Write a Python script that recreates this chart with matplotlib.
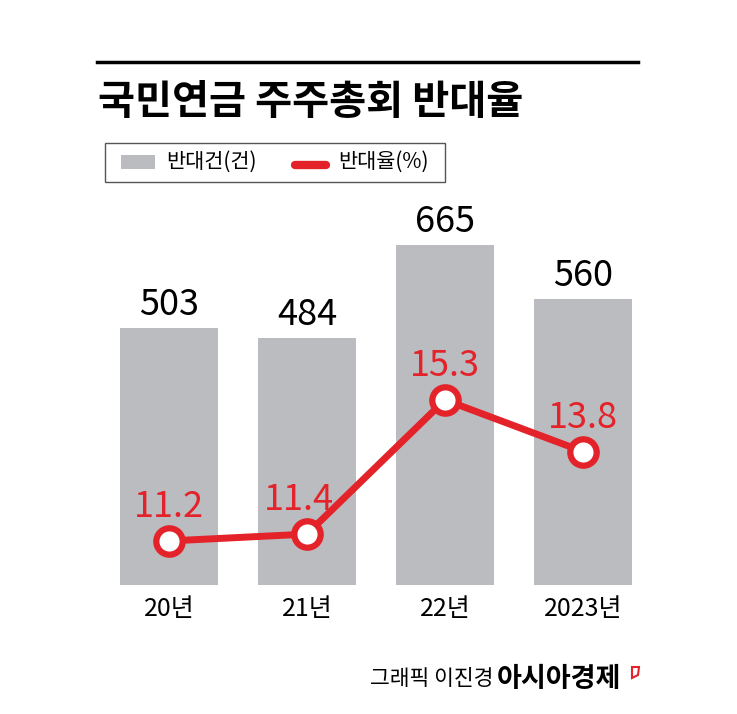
import matplotlib
matplotlib.use("Agg")
import matplotlib.pyplot as plt
from matplotlib.patches import Rectangle, Polygon
from matplotlib.lines import Line2D
import numpy as np

years = ["20년", "21년", "22년", "2023년"]
counts = [503, 484, 665, 560]        # 반대건(건)
rates = [11.2, 11.4, 15.3, 13.8]     # 반대율(%)

KR = ["Noto Sans CJK KR", "DejaVu Sans"]
RED = "#e4222a"
GREY = "#bbbcbf"

W, H = 737, 714
fig = plt.figure(figsize=(W / 100, H / 100), dpi=100)


def px(x, y):
    return x / W, 1 - y / H


# top rule + title
x0, y0 = px(97, 62)
x1, _ = px(638, 62)
fig.add_artist(Line2D([x0, x1], [y0, y0], lw=2.5, color="black"))
fig.text(*px(98, 103), "국민연금 주주총회 반대율", fontsize=29, fontweight="bold",
         family=KR, va="center", ha="left")

# legend box drawn by hand
lx, ly = px(105, 182)
fig.add_artist(Rectangle((lx, ly), 340 / W, 39 / H, fill=False, ec="#555555", lw=1))
gx, gy = px(121, 169)
fig.add_artist(Rectangle((gx, gy), 34 / W, 14 / H, color=GREY, lw=0))
fig.text(*px(166, 162), "반대건(건)", fontsize=15, family=KR, va="center")
rx0, ry = px(295, 165)
rx1, _ = px(326, 165)
fig.add_artist(Line2D([rx0, rx1], [ry, ry], lw=6, color=RED, solid_capstyle="round"))
fig.text(*px(338, 162), "반대율(%)", fontsize=15, family=KR, va="center")

# bars
ax = fig.add_axes([100 / W, 1 - 585 / H, 552 / W, 385 / H])
x = np.arange(len(years))
ax.bar(x, counts, width=0.71, color=GREY)
ax.set_xlim(-0.5, 3.5)
ax.set_ylim(0, 753)
for i, v in enumerate(counts):
    ax.annotate(str(v), (i, v), xytext=(0, 9), textcoords="offset points",
                ha="center", va="baseline", fontsize=26, family=KR)
ax.set_xticks(x, years)
for t in ax.get_xticklabels():
    t.set_family(KR)
    t.set_fontsize(18)
ax.tick_params(axis="x", length=0, pad=8)
ax.set_yticks([])
for s in ax.spines.values():
    s.set_visible(False)

# rate line
ax2 = ax.twinx()
ax2.set_ylim(9.92, 21.11)
ax2.plot(x, rates, color=RED, lw=5, marker="o", ms=19, mfc="white", mec=RED, mew=4.5,
         solid_joinstyle="miter")
for i, v in enumerate(rates):
    dx = -6 if i == 1 else 0
    ax2.annotate(f"{v}", (i, v), xytext=(dx, 17), textcoords="offset points",
                 ha="center", va="baseline", fontsize=26, family=KR, color=RED)
ax2.set_yticks([])
for s in ax2.spines.values():
    s.set_visible(False)

# source
fig.text(*px(370, 679), "그래픽 이진경", fontsize=15.5, family=KR, va="center")
fig.text(*px(497, 679), "아시아경제", fontsize=19.5, fontweight="bold", family=KR, va="center")
logo = [px(632, 667), px(639, 667), px(638, 675), px(632, 678)]
fig.add_artist(Polygon(logo, closed=True, fill=False, ec=RED, lw=1.5))

fig.savefig("out.png", dpi=100)
